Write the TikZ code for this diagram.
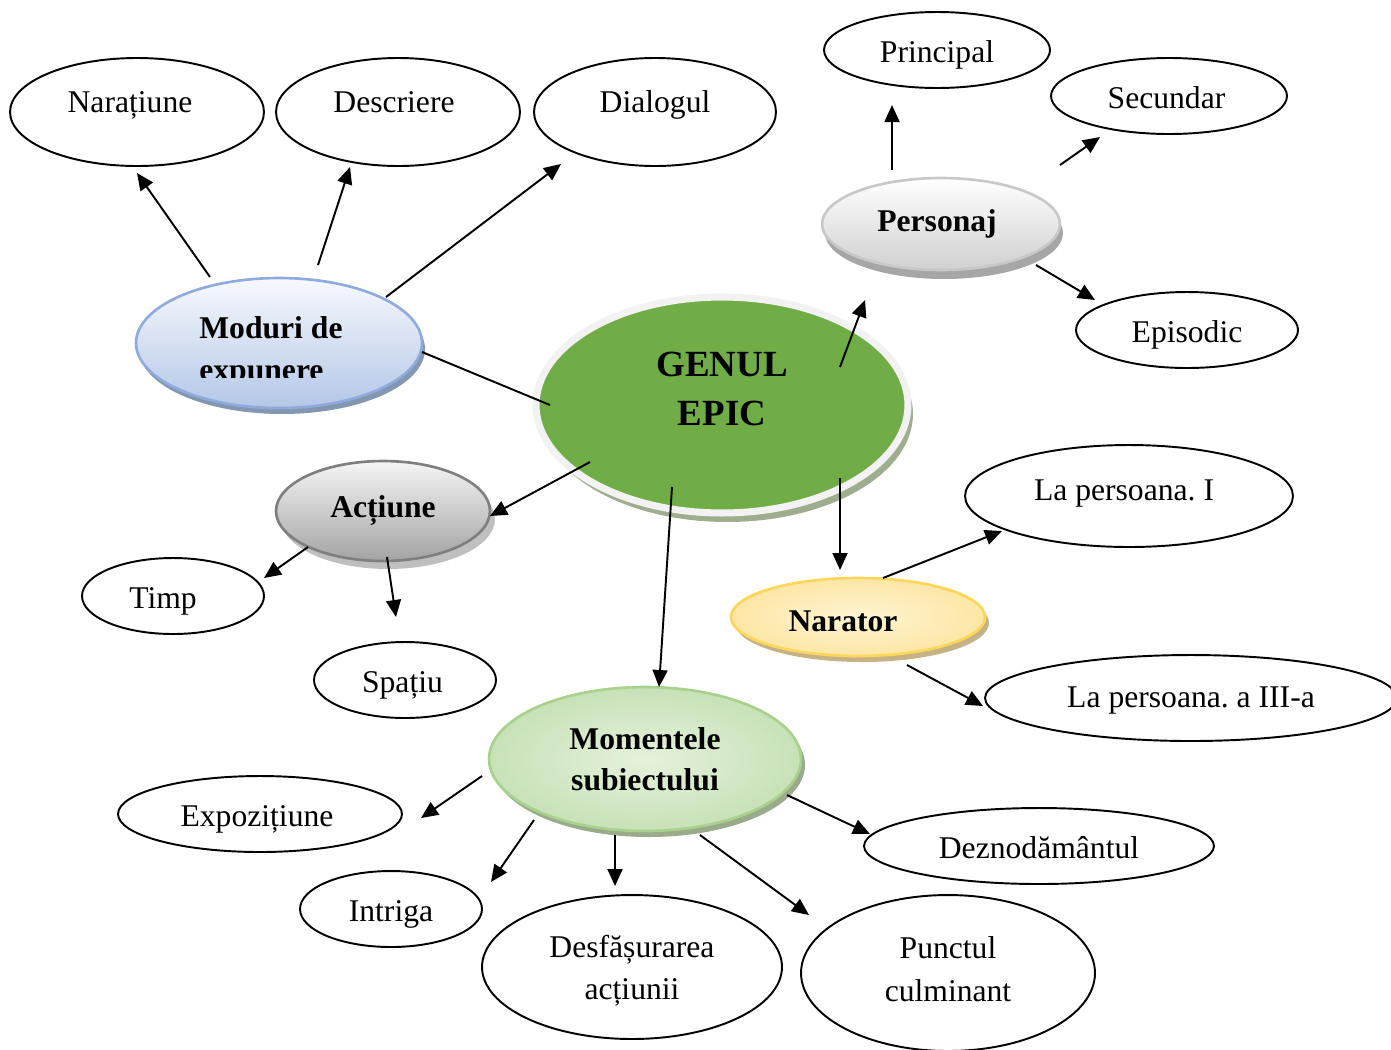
\documentclass[tikz,border=0pt]{standalone}
\usepackage{fontspec}
\setmainfont{Liberation Serif}
\frenchspacing
\usetikzlibrary{shapes.geometric,arrows.meta,shadows}

\definecolor{genulgreen}{HTML}{70AD47}
\definecolor{genulring}{HTML}{F2F2F2}
\definecolor{genulshadow}{HTML}{9DAD8E}
\definecolor{modtop}{HTML}{F7F9FD}
\definecolor{modbot}{HTML}{B4C7E7}
\definecolor{modline}{HTML}{8FAADC}
\definecolor{modshadow}{HTML}{8497B0}
\definecolor{perstop}{HTML}{FFFFFF}
\definecolor{persbot}{HTML}{D0D0D0}
\definecolor{persline}{HTML}{C8C8C8}
\definecolor{persshadow}{HTML}{A6A6A6}
\definecolor{acttop}{HTML}{F5F5F5}
\definecolor{actbot}{HTML}{A3A3A3}
\definecolor{actline}{HTML}{7F7F7F}
\definecolor{actshadow}{HTML}{BFBFBF}
\definecolor{narin}{HTML}{FFF4D3}
\definecolor{narout}{HTML}{FAD978}
\definecolor{narline}{HTML}{FFD659}
\definecolor{narshadow}{HTML}{C6B385}
\definecolor{momin}{HTML}{E5F1DD}
\definecolor{momout}{HTML}{ABD190}
\definecolor{momline}{HTML}{A9D18E}
\definecolor{momshadow}{HTML}{9AAB8C}

\pgfdeclareradialshading{narglow}{\pgfpoint{0bp}{0bp}}{color(0bp)=(narin); color(50bp)=(narout)}
\pgfdeclareradialshading{momglow}{\pgfpoint{0bp}{0bp}}{color(0bp)=(momin); color(50bp)=(momout)}

\tikzset{
	leaf/.style={ellipse, draw, line width=1.1pt, inner sep=0pt, align=center,
		font=\fontsize{18}{24}\selectfont},
	single/.style={leaf, text height=0.55cm, text depth=0.05cm},
	hub/.style={ellipse, inner sep=0pt, align=center, line width=1.5pt,
		font=\bfseries\fontsize{18}{23}\selectfont},
	raisedtext/.style={text height=0.35cm, text depth=0.35cm},
	arr/.style={-{Triangle[length=0.34cm,width=0.3cm]}, line width=1.1pt},
	link/.style={line width=1.1pt},
}

\begin{document}
\begin{tikzpicture}[x=0.02cm, y=-0.02cm]
				\useasboundingbox (0,0) rectangle (1391,1049);

				% centre
				\node[hub, fill=genulgreen, draw=genulring, line width=4pt,
					font=\bfseries\fontsize{21}{28}\selectfont, text depth=0.64cm,
					minimum width=7.44cm, minimum height=4.32cm,
					general shadow={fill=genulshadow, shadow xshift=0.1cm, shadow yshift=-0.18cm}]
					(genul) at (722,405) {GENUL\\EPIC};

				% moduri de expunere
				\node[hub, top color=modtop, bottom color=modbot, draw=modline,
					minimum width=5.72cm, minimum height=2.6cm,
					general shadow={fill=modshadow, shadow xshift=0.06cm, shadow yshift=-0.12cm}]
					(moduri) at (279,343) {};
				\begin{scope}
					\clip (150,290) rectangle (420,377);
					\node[inner sep=0pt, align=left, anchor=west, font=\bfseries\fontsize{18}{24}\selectfont]
						(modtext) at (199,352) {Moduri de\\expunere};
				\end{scope}
				\node[single, raisedtext, minimum width=5.08cm, minimum height=2.16cm] (naratiune) at (137,112) {Narațiune\kern0.28cm};
				\node[single, raisedtext, minimum width=4.88cm, minimum height=2.16cm] (descriere) at (398,112) {Descriere\kern0.16cm};
				\node[single, raisedtext, minimum width=4.84cm, minimum height=2.16cm] (dialogul) at (655,112) {Dialogul};

				% personaj
				\node[hub, top color=perstop, bottom color=persbot, draw=persline,
					minimum width=4.76cm, minimum height=1.84cm,
					general shadow={fill=persshadow, shadow xshift=0.06cm, shadow yshift=-0.18cm}]
					(personaj) at (941,224) {Personaj\kern0.16cm};
				\node[single, minimum width=4.52cm, minimum height=1.52cm] (principal) at (937,50) {Principal};
				\node[single, minimum width=4.72cm, minimum height=1.52cm] (secundar) at (1169,96) {Secundar\kern0.1cm};
				\node[single, minimum width=4.44cm, minimum height=1.52cm] (episodic) at (1187,330) {Episodic};

				% actiune
				\node[hub, top color=acttop, bottom color=actbot, draw=actline,
					minimum width=4.28cm, minimum height=2cm,
					general shadow={fill=actshadow, shadow xshift=0.1cm, shadow yshift=-0.16cm}]
					(actiune) at (383,511) {Acțiune};
				\node[single, minimum width=3.64cm, minimum height=1.52cm] (timp) at (173,596) {Timp\kern0.4cm};
				\node[single, minimum width=3.64cm, minimum height=1.52cm] (spatiu) at (405,680) {Spațiu\kern0.1cm};

				% narator
				\node[hub, shading=narglow, draw=narline, text height=0.59cm, text depth=0cm,
					minimum width=5.08cm, minimum height=1.56cm,
					general shadow={fill=narshadow, shadow xshift=0.08cm, shadow yshift=-0.12cm}]
					(narator) at (858,617) {Narator\kern0.6cm};
				\node[single, text height=0.35cm, text depth=0.17cm, minimum width=6.56cm, minimum height=2.04cm]
					(persI) at (1129,496) {La persoana. I\kern0.2cm};
				\node[single, text height=0.45cm, text depth=0.07cm, minimum width=8.24cm, minimum height=1.72cm]
					(persIII) at (1191,698) {La persoana. a III-a};

				% momentele subiectului
				\node[hub, shading=momglow, draw=momline,
					minimum width=6.24cm, minimum height=2.88cm,
					general shadow={fill=momshadow, shadow xshift=0.08cm, shadow yshift=-0.12cm}]
					(momente) at (645,759) {Momentele\\subiectului};
				\node[single, minimum width=5.68cm, minimum height=1.52cm] (expozitiune) at (260,814) {Expozițiune\kern0.12cm};
				\node[single, minimum width=3.64cm, minimum height=1.52cm] (intriga) at (391,909) {Intriga};
				\node[leaf, text depth=0cm, minimum width=6cm, minimum height=2.88cm] (desfasurarea) at (632,967) {Desfășurarea\\acțiunii};
				\node[leaf, text depth=0.16cm, minimum width=5.88cm, minimum height=3.12cm] (punctul) at (948,973) {Punctul\\culminant};
				\node[single, minimum width=7cm, minimum height=1.52cm] (deznodamantul) at (1039,846) {Deznodământul};

				% connectors
				\draw[link] ([shift={(-172,0)}]genul.center) -- ([shift={(143,9)}]moduri.center);
				\draw[arr] ([shift={(-69,-66)}]moduri.center) -- ([shift={(0,61)}]naratiune.center);
				\draw[arr] ([shift={(39,-78)}]moduri.center) -- ([shift={(-48,55)}]descriere.center);
				\draw[arr] ([shift={(107,-46)}]moduri.center) -- ([shift={(-94,52)}]dialogul.center);

				\draw[arr] ([shift={(118,-38)}]genul.center) -- ([shift={(-76,76)}]personaj.center);
				\draw[arr] ([shift={(-49,-54)}]personaj.center) -- ([shift={(-45,55)}]principal.center);
				\draw[arr] ([shift={(119,-59)}]personaj.center) -- ([shift={(-69,41)}]secundar.center);
				\draw[arr] ([shift={(95,41)}]personaj.center) -- ([shift={(-92,-30)}]episodic.center);

				\draw[arr] ([shift={(-132,57)}]genul.center) -- ([shift={(107,5)}]actiune.center);
				\draw[arr] ([shift={(-75,36)}]actiune.center) -- ([shift={(91,-18)}]timp.center);
				\draw[arr] ([shift={(4,46)}]actiune.center) -- ([shift={(-9,-63)}]spatiu.center);

				\draw[arr] ([shift={(118,73)}]genul.center) -- ([shift={(-18,-47)}]narator.center);
				\draw[arr] ([shift={(25,-39)}]narator.center) -- ([shift={(-127,35)}]persI.center);
				\draw[arr] ([shift={(49,48)}]narator.center) -- ([shift={(-208,8)}]persIII.center);

				\draw[arr] ([shift={(-50,82)}]genul.center) -- ([shift={(14,-72)}]momente.center);
				\draw[arr] ([shift={(-163,17)}]momente.center) -- ([shift={(161,4)}]expozitiune.center);
				\draw[arr] ([shift={(-111,61)}]momente.center) -- ([shift={(100,-27)}]intriga.center);
				\draw[arr] ([shift={(-30,76)}]momente.center) -- ([shift={(-17,-81)}]desfasurarea.center);
				\draw[arr] ([shift={(55,76)}]momente.center) -- ([shift={(-139,-58)}]punctul.center);
				\draw[arr] ([shift={(142,36)}]momente.center) -- ([shift={(-169,-12)}]deznodamantul.center);
\end{tikzpicture}
\end{document}
